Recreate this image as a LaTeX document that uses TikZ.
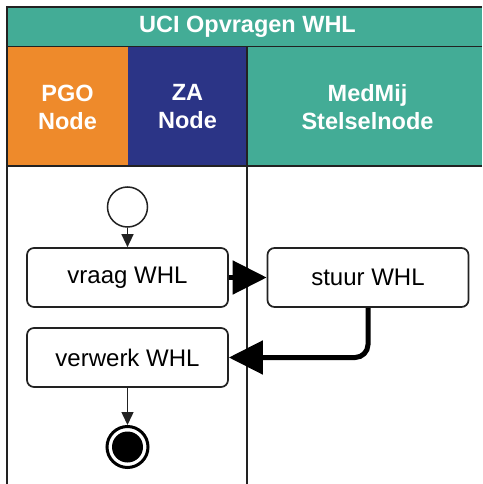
\documentclass[tikz,border=0pt]{standalone}
\usepackage{fontspec}
\setmainfont{Liberation Sans}
\usepackage{xcolor}
\usepackage{tikz}
\usetikzlibrary{arrows.meta,positioning}
\definecolor{tealx}{HTML}{43AC96}
\definecolor{orangex}{HTML}{EE8A2B}
\definecolor{navyx}{HTML}{2B3486}
\definecolor{linex}{HTML}{222222}
\tikzset{
  lane/.style={draw=none,minimum height=119.5pt,inner sep=0pt,text=white,align=center,
    font=\bfseries\fontsize{23.5}{28}\selectfont},
  act/.style={draw=linex,line width=1.7pt,rounded corners=7pt,fill=white,
    minimum width=201pt,minimum height=59pt,inner sep=0pt,font=\fontsize{24}{28}\selectfont},
  flow/.style={-{Triangle[length=13pt,width=12pt]},line width=1.5pt,linex},
  msg/.style={-{Triangle[length=34pt,width=33pt]},line width=5pt,rounded corners=13pt}
}
\begin{document}
\begin{tikzpicture}[x=1pt,y=-1pt]
\useasboundingbox (0,0) rectangle (482,484);
% pool and lanes
\fill[tealx] (7,7) rectangle (482,46.5);
\node[text=white,font=\bfseries\fontsize{23.5}{28}\selectfont] (pool) at (247.5,27) {UCI Opvragen WHL};
\fill[orangex] (7,46.5) rectangle (128,166);
\fill[navyx] (128,46.5) rectangle (247,166);
\fill[tealx] (247,46.5) rectangle (482,166);
\node[lane] (pgo) at (67.5,107) {PGO\\Node};
\node[lane] (za) at (187.5,107) {ZA\\Node};
\node[lane] (medmij) at (367.5,107) {MedMij\\Stelselnode};
\draw[linex,line width=1.5pt] (482,7)--(7,7)--(7,484);
\draw[linex,line width=1.5pt] (7,46.5)--(482,46.5);
\draw[linex,line width=1.5pt] (7,166)--(482,166);
\draw[linex,line width=1.5pt] (247,46.5)--(247,484);
% activities
\node[circle,draw=linex,line width=1.5pt,fill=white,minimum size=40pt,inner sep=0pt] (start) at (127.5,207) {};
\node[act] (vraag) at (127.5,277.5) {vraag WHL};
\node[act] (stuur) at (368,277.5) {stuur WHL};
\node[act] (verwerk) at (127.5,357.5) {verwerk WHL};
\node[circle,draw=black,line width=3pt,fill=white,minimum size=41pt,inner sep=0pt] (stop) at (127.5,447) {};
\fill[black] (stop.center) circle (15.5pt);
% flows
\draw[flow] (start) -- (vraag);
\draw[msg] (vraag) -- (stuur);
\draw[msg] (stuur.south) |- (verwerk.east);
\draw[flow] (verwerk) -- (stop);
\end{tikzpicture}
\end{document}
